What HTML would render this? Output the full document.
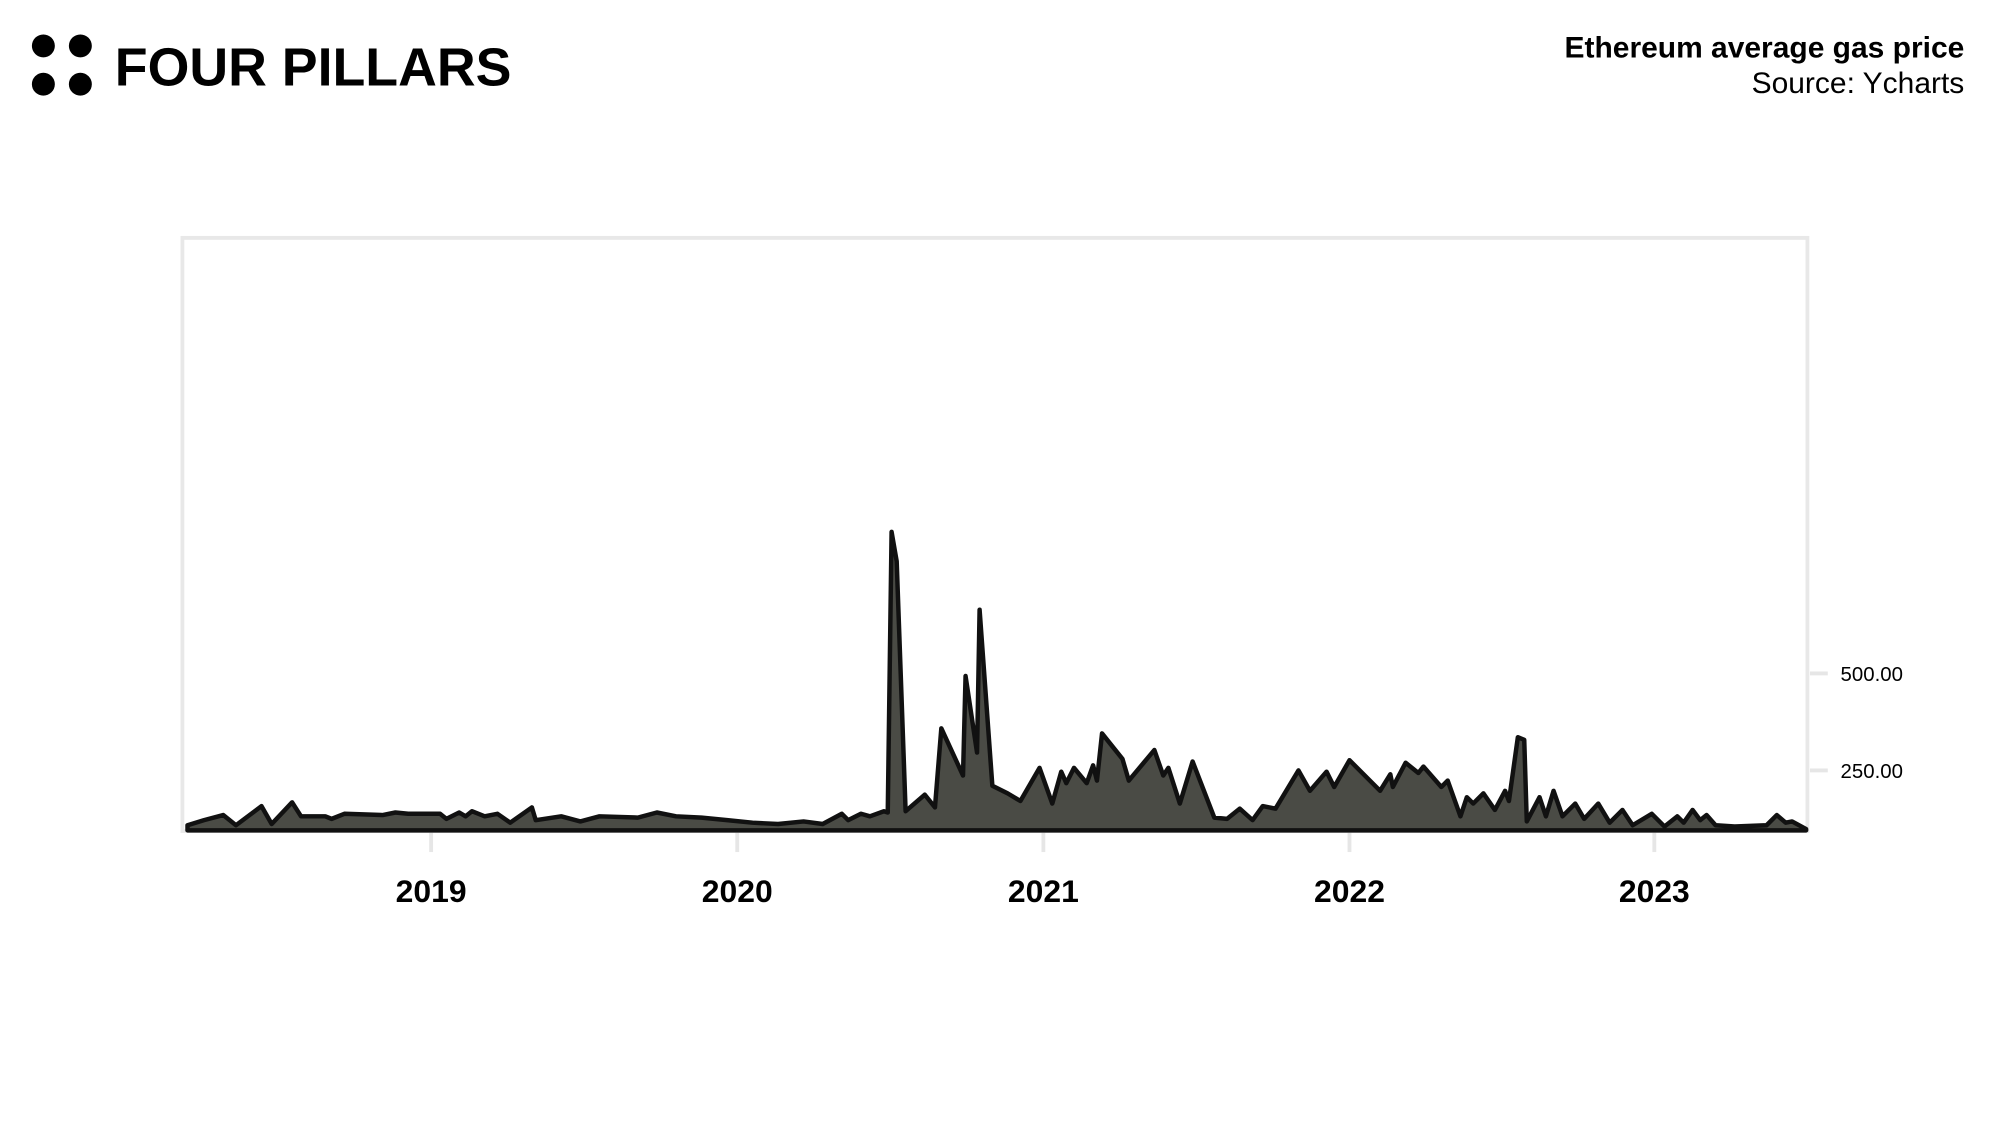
<!DOCTYPE html>
<html><head><meta charset="utf-8"><style>html,body{margin:0;padding:0;background:#fff;}svg{display:block}</style></head>
<body>
<svg width="2000" height="1125" viewBox="0 0 1568 882" preserveAspectRatio="none" xmlns="http://www.w3.org/2000/svg" font-family="Liberation Sans, Arial, sans-serif">
<rect width="1568" height="882" fill="#fff"/>
<circle cx="34" cy="36" r="9" fill="#000"/><circle cx="63" cy="36" r="9" fill="#000"/>
<circle cx="34" cy="66" r="9" fill="#000"/><circle cx="63" cy="66" r="9" fill="#000"/>
<text x="90" y="67" font-size="42" font-weight="bold" fill="#000" textLength="311" lengthAdjust="spacingAndGlyphs">FOUR PILLARS</text>
<text x="1540" y="45" font-size="23.5" font-weight="bold" text-anchor="end" fill="#000">Ethereum average gas price</text>
<text x="1540" y="73" font-size="23.5" text-anchor="end" fill="#000">Source: Ycharts</text>
<rect x="143" y="186.5" width="1274" height="465" fill="none" stroke="#e8e8e8" stroke-width="3"/>
<g stroke="#e6e6e6" stroke-width="3">
<line x1="338" y1="652" x2="338" y2="668"/><line x1="578" y1="652" x2="578" y2="668"/>
<line x1="818" y1="652" x2="818" y2="668"/><line x1="1058" y1="652" x2="1058" y2="668"/>
<line x1="1297" y1="652" x2="1297" y2="668"/>
<line x1="1419" y1="528" x2="1433" y2="528"/><line x1="1419" y1="604" x2="1433" y2="604"/>
</g>
<g font-size="25" font-weight="bold" text-anchor="middle" fill="#000">
<text x="338" y="707">2019</text><text x="578" y="707">2020</text><text x="818" y="707">2021</text><text x="1058" y="707">2022</text><text x="1297" y="707">2023</text>
</g>
<g font-size="16" fill="#000"><text x="1443" y="534">500.00</text><text x="1443" y="610">250.00</text></g>
<path d="M147,651 L147,647 L160,643 L175,639 L185,647 L205,632 L213,646 L229,629 L236,640 L255,640 L260,642 L270,638 L300,639 L310,637 L320,638 L345,638 L350,642 L360,637 L365,640 L370,636 L380,640 L390,638 L400,645 L417,633 L420,643 L440,640 L455,644 L470,640 L500,641 L515,637 L530,640 L550,641 L570,643 L590,645 L610,646 L630,644 L645,646 L660,638 L665,643 L675,638 L682,640 L693,636 L696,637 L699,417 L703,440 L710,636 L725,623 L733,633 L738,571 L755,608 L757,530 L766,590 L768,478 L778,616 L790,622 L800,628 L815,602 L825,630 L832,605 L836,614 L842,602 L852,614 L857,600 L860,612 L864,575 L880,595 L885,612 L905,588 L912,608 L916,602 L925,630 L935,597 L952,641 L962,642 L972,634 L982,643 L990,632 L1000,634 L1018,604 L1027,620 L1040,605 L1046,617 L1058,596 L1082,620 L1090,607 L1092,617 L1102,598 L1112,606 L1116,601 L1130,617 L1135,612 L1145,640 L1150,625 L1155,630 L1163,622 L1172,635 L1180,620 L1183,628 L1190,578 L1195,580 L1197,644 L1207,625 L1212,640 L1218,620 L1225,640 L1235,630 L1242,642 L1253,630 L1262,645 L1272,635 L1280,647 L1295,638 L1305,648 L1315,640 L1320,645 L1327,635 L1333,643 L1338,639 L1345,647 L1360,648 L1385,647 L1393,639 L1400,645 L1405,644 L1416,650 L1416,651 Z" fill="#4a4b45" stroke="#111" stroke-width="3.5" stroke-linejoin="round"/>
</svg>
</body></html>
